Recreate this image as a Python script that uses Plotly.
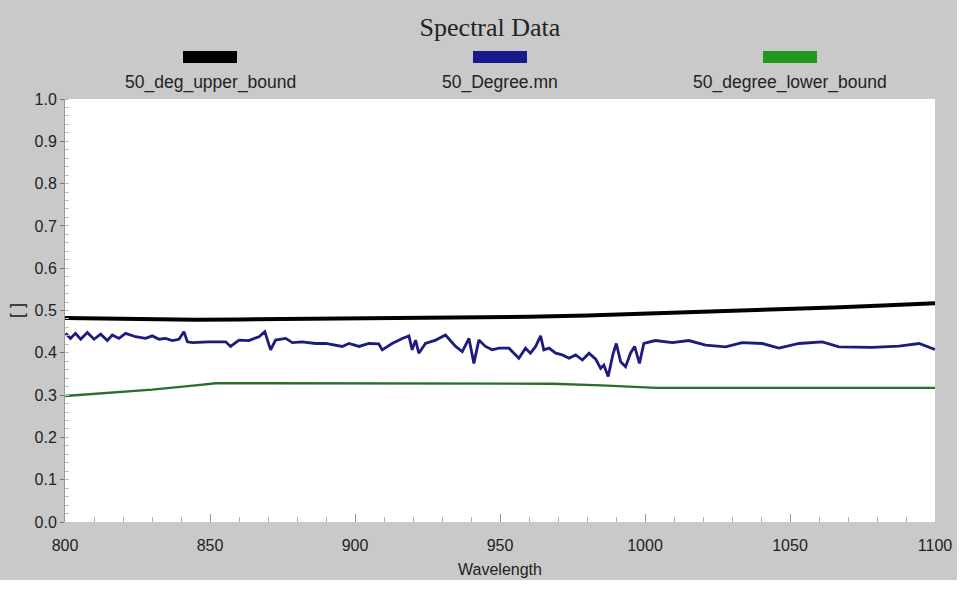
import plotly.graph_objects as go

# Wavelength axis (nm) and reflectance series
upper_wl = [800, 815, 830, 845, 860, 880, 900, 920, 940, 960, 980, 990, 1000,
            1015, 1030, 1050, 1065, 1080, 1090, 1100]
upper_val = [0.482, 0.480, 0.479, 0.478, 0.479, 0.480, 0.482, 0.483, 0.484,
             0.485, 0.488, 0.490, 0.493, 0.496, 0.499, 0.503, 0.507, 0.511,
             0.514, 0.517]

mean_wl = [800.2, 801.9, 803.6, 805.4, 807.7, 810.0, 812.3, 814.6, 816.3, 818.6,
           820.9, 824.3, 827.8, 830.1, 832.4, 834.7, 837.0, 839.3, 841.0, 842.2,
           843.9, 849.6, 855.4, 857.1, 860.0, 863.4, 866.9, 868.9, 870.9, 872.6,
           876.1, 878.4, 881.8, 886.4, 889.9, 893.3, 895.6, 897.9, 901.4, 904.8,
           908.2, 909.4, 912.8, 916.3, 918.6, 919.7, 920.9, 922.0, 924.3, 927.8,
           931.2, 934.7, 937.0, 939.3, 941.0, 942.7, 945.0, 947.3, 949.6, 953.1,
           956.5, 958.8, 960.5, 962.3, 964.0, 965.1, 966.9, 969.2, 971.5, 973.8,
           976.1, 978.4, 980.7, 983.0, 984.7, 985.8, 987.3, 988.9, 990.1, 991.6,
           993.3, 995.0, 996.4, 998.1, 999.6, 1003.6, 1009.4, 1015.1, 1020.9,
           1027.8, 1033.5, 1040.4, 1046.2, 1053.1, 1061.1, 1066.9, 1078.4,
           1087.6, 1094.5, 1100.0]
mean_val = [0.446, 0.434, 0.446, 0.432, 0.448, 0.432, 0.444, 0.429, 0.442, 0.434,
            0.446, 0.438, 0.434, 0.440, 0.432, 0.434, 0.429, 0.432, 0.450, 0.426,
            0.424, 0.426, 0.426, 0.415, 0.430, 0.429, 0.438, 0.450, 0.407, 0.430,
            0.434, 0.424, 0.426, 0.422, 0.422, 0.418, 0.415, 0.422, 0.415, 0.422,
            0.421, 0.407, 0.422, 0.434, 0.440, 0.407, 0.430, 0.399, 0.422, 0.430,
            0.442, 0.415, 0.403, 0.434, 0.375, 0.430, 0.415, 0.407, 0.411, 0.411,
            0.387, 0.411, 0.399, 0.415, 0.440, 0.407, 0.411, 0.399, 0.395, 0.387,
            0.395, 0.383, 0.399, 0.385, 0.363, 0.371, 0.344, 0.395, 0.422, 0.379,
            0.367, 0.399, 0.415, 0.375, 0.422, 0.429, 0.424, 0.429, 0.418,
            0.414, 0.424, 0.422, 0.411, 0.422, 0.426, 0.414, 0.413,
            0.416, 0.422, 0.408]

lower_wl = [800, 815, 830, 845, 852, 870, 900, 930, 960, 968, 985, 998, 1004,
            1030, 1060, 1100]
lower_val = [0.298, 0.305, 0.313, 0.323, 0.328, 0.328, 0.328, 0.328, 0.328,
             0.327, 0.323, 0.320, 0.317, 0.317, 0.317, 0.317]

series_names = ["50_deg_upper_bound", "50_Degree.mn", "50_degree_lower_bound"]
series_colors = ["#000000", "#1c1c7c", "#2a6e2a"]
swatch_colors = ["#000000", "#1a1a8a", "#1e9a1e"]

x_ticks = [800, 850, 900, 950, 1000, 1050, 1100]
y_ticks = [0.0, 0.1, 0.2, 0.3, 0.4, 0.5, 0.6, 0.7, 0.8, 0.9, 1.0]

W, H = 964, 592
ML, MR, MT, MB = 65, 29, 99, 70
PW, PH = W - ML - MR, H - MT - MB

fig = go.Figure()
fig.add_trace(go.Scatter(x=upper_wl, y=upper_val, mode="lines", name=series_names[0],
                         line=dict(color=series_colors[0], width=4)))
fig.add_trace(go.Scatter(x=mean_wl, y=mean_val, mode="lines", name=series_names[1],
                         line=dict(color=series_colors[1], width=2.8)))
fig.add_trace(go.Scatter(x=lower_wl, y=lower_val, mode="lines", name=series_names[2],
                         line=dict(color=series_colors[2], width=2.4)))


def px_x(px):
    return (px - ML) / PW


def px_y(py):
    return (H - MB - py) / PH


# Legend: swatch above each label
shapes = []
annotations = []
legend_centers = [210, 500, 790]
for name, col, cx in zip(series_names, swatch_colors, legend_centers):
    shapes.append(dict(type="rect", xref="paper", yref="paper",
                       x0=px_x(cx - 27), x1=px_x(cx + 27),
                       y0=px_y(63), y1=px_y(51),
                       fillcolor=col, line=dict(width=0)))
    annotations.append(dict(text=name, xref="paper", yref="paper",
                            x=px_x(cx), y=px_y(82), showarrow=False,
                            xanchor="center", yanchor="middle",
                            font=dict(family="Liberation Sans", size=17.5, color="#222222")))

# White border around the grey panel
shapes.append(dict(type="rect", xref="paper", yref="paper",
                   x0=px_x(0), x1=px_x(W), y0=px_y(H), y1=px_y(580),
                   fillcolor="white", line=dict(width=0)))
shapes.append(dict(type="rect", xref="paper", yref="paper",
                   x0=px_x(957), x1=px_x(W), y0=px_y(H), y1=px_y(0),
                   fillcolor="white", line=dict(width=0)))

fig.update_layout(
    width=W, height=H,
    margin=dict(l=ML, r=MR, t=MT, b=MB),
    paper_bgcolor="#c9c9c9",
    plot_bgcolor="white",
    showlegend=False,
    title=dict(text="Spectral Data", x=490 / W, xanchor="center",
               y=1 - 27 / H, yanchor="middle",
               font=dict(family="Liberation Serif", size=26, color="#222222")),
    font=dict(family="Liberation Sans", size=16, color="#222222"),
    shapes=shapes,
    annotations=annotations,
    xaxis=dict(range=[800, 1100], tickvals=x_ticks, ticks="inside", ticklen=8,
               tickcolor="#9a9a9a", showgrid=False, zeroline=False,
               showline=False, ticklabelstandoff=12,
               minor=dict(dtick=10, ticks="inside", ticklen=5, tickcolor="#b0b0b0"),
               title=dict(text="Wavelength", standoff=10,
                          font=dict(family="Liberation Sans", size=16))),
    yaxis=dict(range=[0, 1], tickvals=y_ticks, tickformat=".1f", ticks="outside",
               ticklen=4, tickcolor="#777777", showgrid=False, zeroline=False,
               showline=True, linecolor="#9a9a9a", linewidth=1,
               minor=dict(dtick=0.02, ticks="inside", ticklen=4, tickcolor="#c0c0c0"),
               title=dict(text="[ ]", standoff=6,
                          font=dict(family="Liberation Sans", size=18))),
)

fig.write_html("out.html")
